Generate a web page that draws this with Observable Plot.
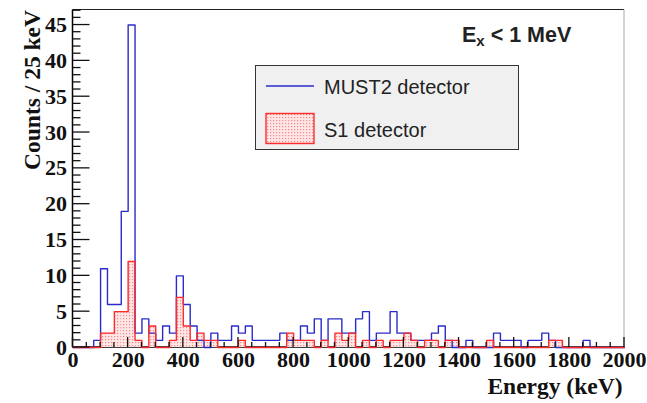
<!DOCTYPE html>
<html><head><meta charset="utf-8">
<script src="https://cdn.jsdelivr.net/npm/d3@7"></script>
<script src="https://cdn.jsdelivr.net/npm/@observablehq/plot@0.6"></script>
<style>
body{margin:0;background:#fff}
#chart{position:relative;width:647px;height:403px;overflow:hidden}
</style>
</head><body><div id="chart"></div>
<script>
// ---- data ----
const binWidth = 25;
const binStarts = d3.range(0, 2000, binWidth); // 80 bins of 25 keV
const must2Counts = [
  0,0,0,1,11,6,6,19,45,2,
  4,2,1,3,2,10,6,3,1,0,
  2,1,1,3,2,3,1,1,1,1,
  2,1,1,3,2,4,1,4,4,2,
  2,4,5,1,2,2,5,2,2,1,
  1,1,2,3,1,0,0,1,0,0,
  0,2,1,1,1,0,1,1,2,1,
  0,0,0,0,1,0,0,0,0,0
];
const s1Counts = [
  0,0,0,0,2,2,5,5,12,1,
  0,3,0,0,1,7,3,1,2,1,
  1,0,0,0,1,0,0,0,0,0,
  0,2,1,1,1,0,1,0,2,1,
  2,0,1,0,1,0,1,1,2,1,
  0,1,1,0,1,1,0,0,0,0,
  1,0,0,0,0,0,0,0,0,1,
  1,0,0,0,0,0,0,0,0,0
];
const xTicks = [0,200,400,600,800,1000,1200,1400,1600,1800,2000];
const xMinorTicks = d3.range(0, 2001, 50);
const yTicks = [0,5,10,15,20,25,30,35,40,45];
const yMinorTicks = d3.range(0, 48, 1);
const seriesNames = ["MUST2 detector", "S1 detector"];
const annotation = "< 1 MeV";

// ---- derived tables ----
const stepOf = counts => binStarts.map((x, i) => ({x, y: counts[i]}))
  .concat([{x: binStarts[binStarts.length - 1] + binWidth, y: counts[counts.length - 1]}]);
const must2Step = stepOf(must2Counts);
const s1Step = stepOf(s1Counts);
const s1Rects = binStarts.map((x, i) => ({x1: x, x2: x + binWidth, y: s1Counts[i]})).filter(d => d.y > 0);

const serif = "'Liberation Serif','Times New Roman',serif";
const sans = "'Liberation Sans',Arial,Helvetica,sans-serif";

function frameMark(index, {x, y}) {
  const g = d3.create("svg:g").attr("fill", "none");
  const x0 = x(0), x1 = x(2000), y0 = y(0), yTop = y.range()[1];
  g.append("line").attr("x1", x0).attr("x2", x1).attr("y1", yTop).attr("y2", yTop).attr("stroke", "#222").attr("stroke-width", 1);
  g.append("line").attr("x1", x1).attr("x2", x1).attr("y1", yTop).attr("y2", y0).attr("stroke", "#aaa").attr("stroke-width", 1);
  g.append("line").attr("x1", x0).attr("x2", x0).attr("y1", yTop).attr("y2", y0).attr("stroke", "#000").attr("stroke-width", 1.5);
  g.append("line").attr("x1", x0).attr("x2", x1).attr("y1", y0).attr("y2", y0).attr("stroke", "#000").attr("stroke-width", 1.5);
  return g.node();
}

function tickMark(index, {x, y}) {
  const g = d3.create("svg:g").attr("stroke", "#111").attr("stroke-width", 1.3);
  const x0 = x(0), y0 = y(0);
  for (const v of yMinorTicks) {
    const len = yTicks.includes(v) ? 17 : 8;
    g.append("line").attr("x1", x0).attr("x2", x0 + len).attr("y1", y(v)).attr("y2", y(v));
  }
  for (const v of xMinorTicks) {
    const len = xTicks.includes(v) ? 10 : 5;
    g.append("line").attr("x1", x(v)).attr("x2", x(v)).attr("y1", y0).attr("y2", y0 - len);
  }
  return g.node();
}

const svg = Plot.plot({
  width: 647, height: 403,
  marginLeft: 72.5, marginRight: 23, marginTop: 9.5, marginBottom: 56,
  x: {domain: [0, 2000]},
  y: {domain: [0, 47.1]},
  style: {background: "#fff"},
  marks: [
    frameMark,
    Plot.rectY(s1Rects, {x1: "x1", x2: "x2", y: "y", fill: "url(#s1dots)"}),
    Plot.line(must2Step, {x: "x", y: "y", curve: "step-after", stroke: "#2b2bcc", strokeWidth: 1.4}),
    Plot.line(s1Step, {x: "x", y: "y", curve: "step-after", stroke: "#ff2b2b", strokeWidth: 1.4}),
    tickMark,
    Plot.axisX({ticks: xTicks, tickFormat: d => String(d), tickSize: 0, tickPadding: 4, label: null, fontSize: 22, fontWeight: "bold", fontFamily: serif, fill: "#111"}),
    Plot.axisY({ticks: yTicks, tickFormat: d => String(d), tickSize: 0, tickPadding: 6, label: null, fontSize: 22, fontWeight: "bold", fontFamily: serif, fill: "#111"}),
    Plot.text(["Energy (keV)"], {frameAnchor: "bottom-right", dx: -2, dy: 46, textAnchor: "end", fontSize: 23.5, fontWeight: "bold", fontFamily: serif, fill: "#111"}),
    Plot.text(["Counts / 25 keV"], {frameAnchor: "top-left", rotate: -90, textAnchor: "end", dx: -50, dy: 0, fontSize: 23.5, fontWeight: "bold", fontFamily: serif, fill: "#111"})
  ]
});

// pattern for the S1 fill
const root = d3.select(svg);
root.insert("defs", ":first-child").html(
  '<pattern id="s1dots" width="3" height="3" patternUnits="userSpaceOnUse">' +
  '<rect width="3" height="3" fill="#ffe6e6"/><rect x="0" y="0" width="1.2" height="1.2" fill="#f48a8a"/></pattern>'
);

// legend
const lg = root.append("g").attr("text-anchor", "start");
lg.append("rect").attr("x", 255.5).attr("y", 65.5).attr("width", 263).attr("height", 84)
  .attr("fill", "#f0f0f0").attr("stroke", "#333").attr("stroke-width", 1);
lg.append("line").attr("x1", 266).attr("x2", 314).attr("y1", 86).attr("y2", 86).attr("stroke", "#2b2bcc").attr("stroke-width", 1.4);
lg.append("rect").attr("x", 266).attr("y", 113.5).attr("width", 48).attr("height", 30)
  .attr("fill", "url(#s1dots)").attr("stroke", "#ff2b2b").attr("stroke-width", 1.4);
lg.append("text").attr("x", 324).attr("y", 87).attr("dy", "0.35em").attr("text-anchor", "start").attr("font-family", sans).attr("font-size", 20).attr("fill", "#222").text(seriesNames[0]);
lg.append("text").attr("x", 324).attr("y", 130).attr("dy", "0.35em").attr("text-anchor", "start").attr("font-family", sans).attr("font-size", 20).attr("fill", "#222").text(seriesNames[1]);

// annotation E_x < 1 MeV
const ann = root.append("text").attr("x", 462).attr("y", 41.5).attr("text-anchor", "start").attr("font-family", sans).attr("font-size", 21.5).attr("font-weight", "bold").attr("fill", "#222");
ann.append("tspan").text("E");
ann.append("tspan").attr("font-size", 15).attr("dy", 4).text("x");
ann.append("tspan").attr("dy", -4).text(" " + annotation);

document.getElementById("chart").appendChild(svg);
</script>
</body></html>
